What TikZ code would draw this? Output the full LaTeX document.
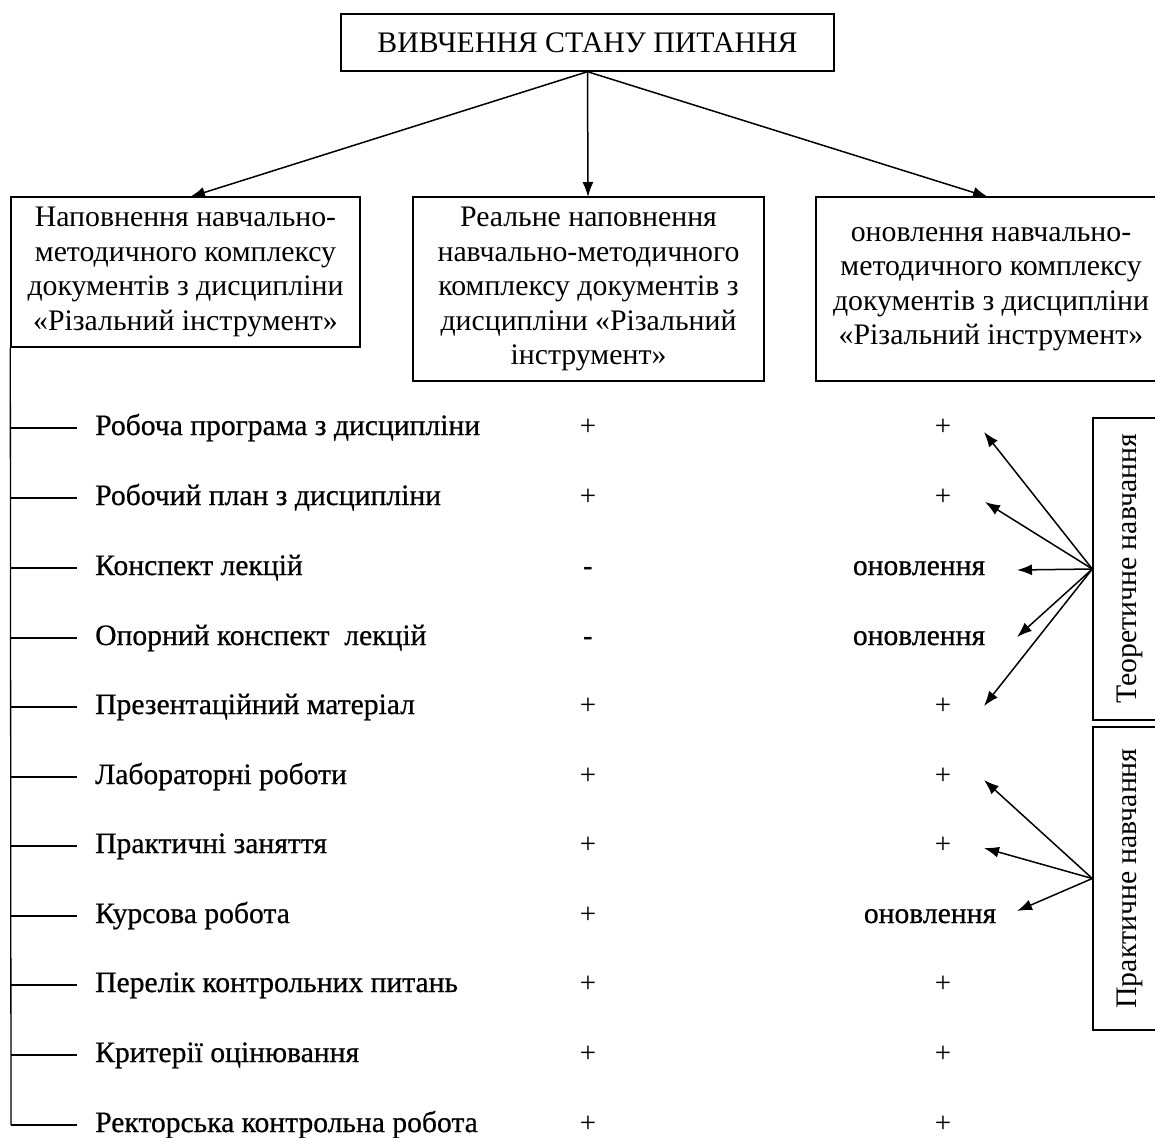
\documentclass[tikz,border=0pt]{standalone}
\usepackage{fontspec}
\setmainfont{Liberation Serif}
\newfontfamily\listfont[FakeBold=0.6]{Liberation Serif}
\usetikzlibrary{arrows.meta}
\begin{document}
\begin{tikzpicture}[x=1pt,y=-1pt,
  frame/.style={draw, line width=1.4pt, inner sep=0pt, align=center},
  boxtext/.style={font=\fontsize{29.8}{34.5}\selectfont},
  itemtext/.style={anchor=base west, inner sep=0pt, font=\listfont\fontsize{29.6}{32}\selectfont},
  signtext/.style={anchor=base, inner sep=0pt, font=\fontsize{29}{32}\selectfont},
  updtext/.style={anchor=base, inner sep=0pt, font=\listfont\fontsize{29.6}{32}\selectfont},
  conn/.style={line width=1.5pt, -{Latex[length=15pt,width=11pt]}},
  tickline/.style={line width=1.3pt}
]
\useasboundingbox (0,0) rectangle (1155,1137);
% top
\node[frame, minimum width=493pt, minimum height=57pt, boxtext] (top) at (587.5,42.5) {ВИВЧЕННЯ СТАНУ ПИТАННЯ};
% three boxes
\node[frame, minimum width=349pt, minimum height=150pt, boxtext] (lbox) at (185.5,272) {Наповнення навчально-\\методичного комплексу\\документів з дисципліни\\«Різальний інструмент»};
\node[frame, minimum width=351pt, minimum height=184pt, boxtext] (mbox) at (588.5,289) {Реальне наповнення\\навчально-методичного\\комплексу документів з\\дисципліни «Різальний\\інструмент»};
\node[frame, minimum width=350pt, minimum height=184pt, boxtext] (rbox) at (991,289) {оновлення навчально-\\методичного комплексу\\документів з дисципліни\\«Різальний інструмент»};
\coordinate (lt) at (190,197);
\coordinate (mt) at (588,197);
\coordinate (rt) at (988,197);
\draw[conn] (top.south) -- (lt);
\draw[conn] (top.south) -- (mt);
\draw[conn] (top.south) -- (rt);
% side boxes
\node[frame, minimum width=74pt, minimum height=302pt] (tbox) at (1130,569) {};
\node[rotate=90, boxtext] (tlab) at (tbox.center) {Теоретичне навчання};
\node[frame, minimum width=74pt, minimum height=303pt] (pbox) at (1130,878.5) {};
\node[rotate=90, boxtext] (plab) at (pbox.center) {Практичне навчання};
% list
\coordinate (rail) at (11,1125);
\draw[tickline] (lbox.south west) -- (rail);
\foreach \i/\y/\t/\m/\u in {
 1/428/{Робоча програма з дисципліни}/+/+,
 2/498/{Робочий план з дисципліни}/+/+,
 3/568/{Конспект лекцій}/{\textbf{-}}/{},
 4/638/{Опорний конспект\ \ лекцій}/{\textbf{-}}/{},
 5/707/{Презентаційний матеріал}/+/+,
 6/777/{Лабораторні роботи}/+/+,
 7/846/{Практичні заняття}/+/+,
 8/916/{Курсова робота}/+/{},
 9/985/{Перелік контрольних питань}/+/+,
 10/1055/{Критерії оцінювання}/+/+,
 11/1125/{Ректорська контрольна робота}/+/+}{
  \coordinate (a\i) at (11,\y);
  \coordinate (b\i) at (77,\y);
  \draw[tickline] (a\i) -- (b\i);
  \node[itemtext] (it\i) at (95,\y+7) {\t};
  \node[signtext] (ms\i) at (588,\y+7) {\m};
  \node[signtext] (rs\i) at (943,\y+7) {\u};
}
\node[updtext] (u3) at (919,575) {оновлення};
\node[updtext] (u4) at (919,645) {оновлення};
\node[updtext] (u8) at (930,923) {оновлення};
% theory arrows
\coordinate (t1) at (984,432);
\coordinate (t2) at (985,502);
\coordinate (t3) at (1017,570);
\coordinate (t4) at (1017,637);
\coordinate (t5) at (984,706);
\foreach \k in {1,...,5}{\draw[conn] (tbox.west) -- (t\k);}
\coordinate (p1) at (984,780);
\coordinate (p2) at (984,848);
\coordinate (p3) at (1017,911);
\foreach \k in {1,2,3}{\draw[conn] (pbox.west) -- (p\k);}
\end{tikzpicture}
\end{document}
